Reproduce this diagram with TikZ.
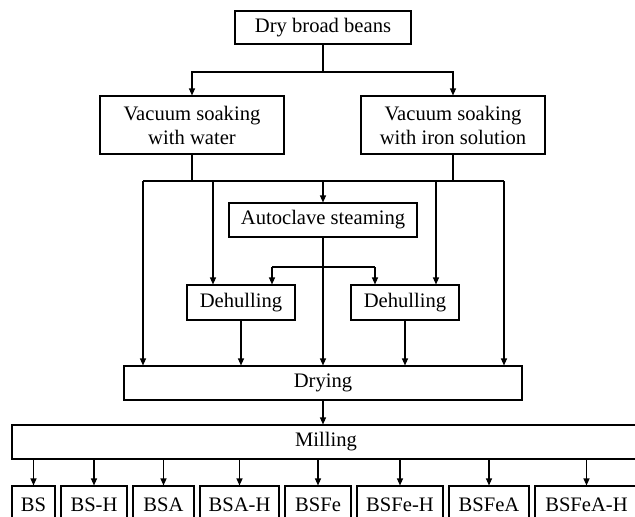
\documentclass[tikz,border=0pt]{standalone}
\usepackage{fontspec}
\setmainfont{Liberation Serif}
\usetikzlibrary{arrows.meta}
\begin{document}
\begin{tikzpicture}[x=1pt,y=-1pt, line width=1.1pt,
  box/.style={draw, rectangle, inner sep=0pt, font=\fontsize{20.6}{24}\selectfont, align=center},
  arr/.style={-{Triangle[length=7pt,width=6pt]}}]
\useasboundingbox (0,0) rectangle (635,517);
\clip (0,0) rectangle (635,517);

% main nodes
\node[box, minimum width=176pt, minimum height=33pt] (top) at (323,27.5) {Dry broad beans};
\node[box, minimum width=184pt, minimum height=58pt] (vl) at (192,125) {Vacuum soaking\\with water};
\node[box, minimum width=184pt, minimum height=58pt] (vr) at (453,125) {Vacuum soaking\\with iron solution};
\node[box, minimum width=188pt, minimum height=34pt] (auto) at (323,220) {Autoclave steaming};
\node[box, minimum width=108pt, minimum height=35pt] (dl) at (241,302.5) {Dehulling};
\node[box, minimum width=108pt, minimum height=35pt] (dr) at (405,302.5) {Dehulling};
\node[box, minimum width=398pt, minimum height=34pt] (dry) at (323,383) {Drying};
\node[box, minimum width=628pt, minimum height=34pt] (mill) at (326,442) {Milling};

% products
\node[box, minimum width=43pt, minimum height=38pt] (p1) at (33.5,505) {BS};
\node[box, minimum width=66pt, minimum height=38pt] (p2) at (94,505) {BS-H};
\node[box, minimum width=61pt, minimum height=38pt] (p3) at (163.5,505) {BSA};
\node[box, minimum width=79pt, minimum height=38pt] (p4) at (239.5,505) {BSA-H};
\node[box, minimum width=66pt, minimum height=38pt] (p5) at (318,505) {BSFe};
\node[box, minimum width=86pt, minimum height=38pt] (p6) at (400,505) {BSFe-H};
\node[box, minimum width=80pt, minimum height=38pt] (p7) at (489,505) {BSFeA};
\node[box, minimum width=103pt, minimum height=38pt] (p8) at (586.5,505) {BSFeA-H};

% top split
\coordinate (j1) at (323,72);
\draw (top.south) -- (j1);
\draw[arr] (j1) -| (vl.north);
\draw[arr] (j1) -| (vr.north);

% bar below soaking boxes
\coordinate (jl) at (192,181);
\coordinate (jr) at (453,181);
\coordinate (bl) at (143,181);
\coordinate (br) at (504,181);
\coordinate (a1) at (213,181);
\coordinate (a2) at (323,181);
\coordinate (a3) at (436,181);
\draw (vl.south) -- (jl);
\draw (vr.south) -- (jr);
\draw (bl) -- (br);
\draw[arr] (bl) -- (bl |- dry.north);
\draw[arr] (a1) -- (a1 |- dl.north);
\draw[arr] (a2) -- (auto.north);
\draw[arr] (a3) -- (a3 |- dr.north);
\draw[arr] (br) -- (br |- dry.north);

% autoclave outputs
\coordinate (s1) at (272,267);
\coordinate (s2) at (375,267);
\draw[arr] (auto.south) -- (dry.north);
\draw (s1) -- (s2);
\draw[arr] (s1) -- (s1 |- dl.north);
\draw[arr] (s2) -- (s2 |- dr.north);

% dehulling to drying
\draw[arr] (dl.south) -- (dl.south |- dry.north);
\draw[arr] (dr.south) -- (dr.south |- dry.north);

% drying to milling
\draw[arr] (dry.south) -- (dry.south |- mill.north);

% milling to products
\foreach \p in {p1,p2,p3,p4,p5,p6,p7,p8}
  \draw[arr] (\p.north |- mill.south) -- (\p.north);
\end{tikzpicture}
\end{document}
